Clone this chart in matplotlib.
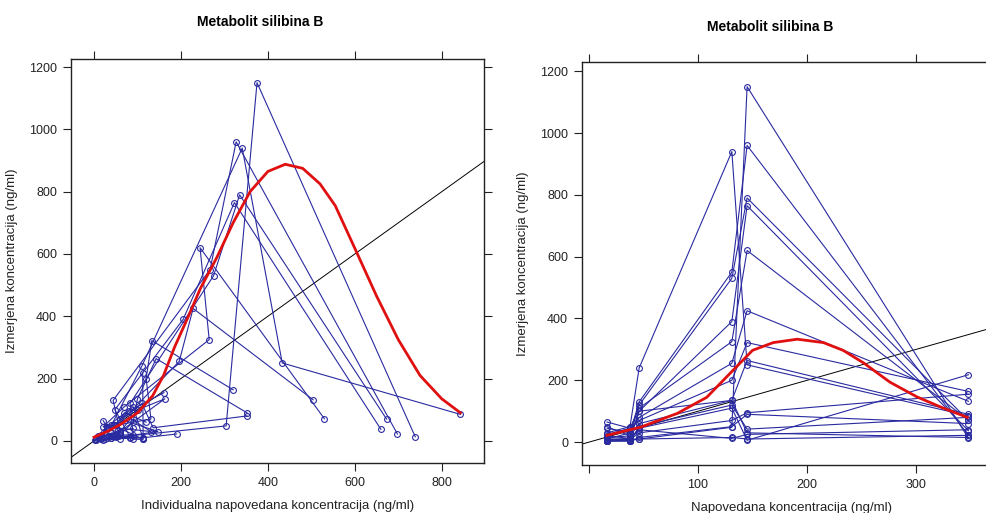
import matplotlib.pyplot as plt
import numpy as np

# population predicted concentration at the six sampling times (ng/ml)
pop_pred = [16.5, 37.6, 46, 131, 145, 348]

# measured concentration per subject (ng/ml), one row per subject
obs_conc = [
    [5, 8, 10, 48, 1150, 13],
    [30, 50, 240, 940, 250, 85],
    [10, 30, 130, 550, 960, 22],
    [15, 20, 120, 530, 790, 70],
    [8, 12, 100, 390, 765, 37],
    [25, 45, 110, 325, 620, 71],
    [45, 30, 80, 255, 425, 132],
    [65, 45, 70, 200, 322, 164],
    [50, 20, 60, 135, 264, 90],
    [5, 5, 50, 120, 42, 80],
    [3, 5, 45, 110, 6, 218],
    [10, 8, 30, 70, 95, 155],
    [5, 3, 15, 50, 90, 60],
    [3, 5, 10, 15, 10, 22],
    [20, 12, 100, 135, 30, 15],
    [8, 10, 40, 12, 25, 40],
]

# individual predicted concentration per subject (ng/ml)
ind_pred = [
    [4, 12, 40, 304, 375, 739],
    [22, 40, 110, 341, 433, 843],
    [15, 60, 44, 267, 327, 698],
    [10, 90, 83, 275, 335, 673],
    [30, 83, 48, 205, 323, 660],
    [60, 21, 70, 265, 244, 530],
    [30, 131, 75, 196, 228, 504],
    [21, 30, 131, 120, 133, 320],
    [48, 60, 90, 100, 143, 352],
    [90, 113, 45, 110, 136, 352],
    [3, 15, 30, 90, 113, 112],
    [83, 40, 147, 60, 80, 161],
    [60, 20, 50, 50, 70, 120],
    [5, 25, 113, 40, 113, 190],
    [15, 50, 101, 163, 60, 35],
    [6, 12, 30, 20, 40, 90],
]

# smoother
smooth_ind_x = [0, 30, 60, 100, 135, 160, 185, 214, 245, 283, 320, 359, 400,
                440, 480, 520, 555, 606, 650, 700, 750, 800, 843]
smooth_ind_y = [12, 30, 52, 90, 145, 210, 300, 390, 490, 590, 700, 800, 865,
                888, 875, 825, 755, 600, 465, 325, 210, 135, 90]
smooth_pop_x = [16.5, 47, 81, 108, 132, 150, 169, 191, 215, 233, 252, 276,
                301, 325, 347]
smooth_pop_y = [22, 48, 93, 145, 232, 297, 322, 333, 322, 297, 256, 194,
                146, 110, 80]

TITLE = 'Metabolit silibina B'
YLABEL = 'Izmerjena koncentracija (ng/ml)'
LINE_COLOR = '#2A2AA0'
SMOOTH_COLOR = '#E01010'
FRAME_COLOR = '#222222'

plt.rcParams['font.family'] = ['Liberation Sans', 'DejaVu Sans']
plt.rcParams['font.size'] = 9

fig = plt.figure(figsize=(9.87, 5.13), dpi=100)
ax_l = fig.add_axes([0.0719, 0.0975, 0.4184, 0.7875])
ax_r = fig.add_axes([0.5897, 0.0936, 0.4235, 0.7856])


def draw_panel(ax, xs_per_subject, sx, sy, xlim, ylim, xticks, xticklabels, xlabel, title_x, title_y):
    for xs, ys in zip(xs_per_subject, obs_conc):
        ax.plot(xs, ys, color=LINE_COLOR, lw=0.8, marker='o', ms=4.2,
                mfc='none', mec=LINE_COLOR, mew=0.8, zorder=2)
    lo = min(xlim[0], ylim[0])
    hi = max(xlim[1], ylim[1])
    ax.plot([lo, hi], [lo, hi], color='black', lw=0.7, zorder=1)
    ax.plot(sx, sy, color=SMOOTH_COLOR, lw=2, zorder=3)
    ax.set_xlim(*xlim)
    ax.set_ylim(*ylim)
    ax.set_xticks(xticks)
    ax.set_xticklabels(xticklabels)
    ax.set_yticks([0, 200, 400, 600, 800, 1000, 1200])
    ax.tick_params(direction='out', length=6, width=0.8, colors=FRAME_COLOR,
                   top=True, right=True, labeltop=False, labelright=False,
                   labelsize=9, pad=4)
    for s in ax.spines.values():
        s.set_color(FRAME_COLOR)
        s.set_linewidth(1.0)
    ax.set_xlabel(xlabel, fontsize=9.5, color='#222222', labelpad=8)
    ax.set_ylabel(YLABEL, fontsize=9.5, color='#222222', labelpad=8)
    fig.text(title_x, title_y, TITLE, ha='center', va='center',
             fontsize=10, fontweight='bold')


pop_x = [pop_pred] * len(obs_conc)
draw_panel(ax_l, ind_pred, smooth_ind_x, smooth_ind_y, (-53, 897), (-71, 1226),
           [0, 200, 400, 600, 800], ['0', '200', '400', '600', '800'],
           'Individualna napovedana koncentracija (ng/ml)',
           260 / 987, 1 - 22 / 513)
draw_panel(ax_r, pop_x, smooth_pop_x, smooth_pop_y, (-6.4, 377), (-74, 1230),
           [0, 100, 200, 300], ['', '100', '200', '300'],
           'Napovedana koncentracija (ng/ml)',
           770 / 987, 1 - 27 / 513)

fig.savefig('out.png', dpi=100)
